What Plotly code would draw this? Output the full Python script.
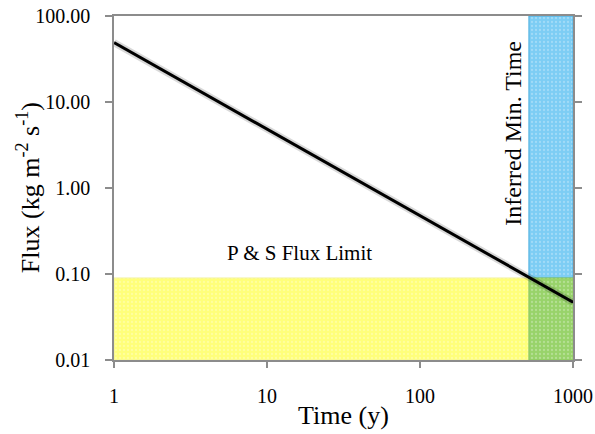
import math
import plotly.graph_objects as go

# Data
time_pts = [1, 1000]
flux_pts = [49, 0.047]
flux_limit = 0.09          # P & S flux limit
min_time = 515             # inferred minimum time
t_range = [1, 1000]
f_range = [0.01, 100]
y_ticks = [0.01, 0.1, 1, 10, 100]
y_ticklabels = ["0.01", "0.10", "1.00", "10.00", "100.00"]
x_ticks = [1, 10, 100, 1000]
x_ticklabels = ["1", "10", "100", "1000"]
label_limit = ("P & S Flux Limit", 16.4, 0.175)
label_time = ("Inferred Min. Time", 400, 4.3)

FONT = "Liberation Serif"

fig = go.Figure()

def rect(x0, x1, y0, y1, color, edge):
    fig.add_trace(go.Scatter(
        x=[x0, x1, x1, x0, x0], y=[y0, y0, y1, y1, y0],
        mode="lines", fill="toself", fillcolor=color,
        line=dict(color=edge, width=1),
        fillpattern=dict(shape=".", fgcolor="rgba(255,255,255,0.55)", bgcolor=color, size=4, solidity=0.25),
        hoverinfo="skip", showlegend=False))

rect(t_range[0], min_time, f_range[0], flux_limit, "#FFFF7A", "#F2F2A0")
rect(min_time, t_range[1], flux_limit, f_range[1], "#7DCDF4", "#4AAEDF")
rect(min_time, t_range[1], f_range[0], flux_limit, "#98D36A", "#8CC85E")

# shadow
fig.add_trace(go.Scatter(x=time_pts, y=flux_pts, mode="lines",
                         line=dict(color="rgba(0,0,0,0.15)", width=7),
                         hoverinfo="skip", showlegend=False))
fig.add_trace(go.Scatter(x=time_pts, y=flux_pts, mode="lines",
                         line=dict(color="black", width=3),
                         showlegend=False))

fig.add_annotation(x=math.log10(label_limit[1]), y=math.log10(label_limit[2]), xref="x", yref="y",
                   text=label_limit[0], showarrow=False,
                   font=dict(family=FONT, size=21, color="black"))
fig.add_annotation(x=math.log10(label_time[1]), y=math.log10(label_time[2]), xref="x", yref="y",
                   text=label_time[0], showarrow=False, textangle=-90,
                   font=dict(family=FONT, size=24, color="black"))
# y-axis title
fig.add_annotation(x=-0.187, y=0.5, xref="paper", yref="paper", xanchor="center", yanchor="middle",
                   text="Flux (kg m<sup>-2</sup> s<sup>-1</sup>)", showarrow=False, textangle=-90,
                   font=dict(family=FONT, size=26, color="black"))

fig.update_xaxes(type="log", range=[0, 3], tickvals=x_ticks, ticktext=x_ticklabels,
                 automargin=False,
                 showgrid=False, zeroline=False, showline=True, linecolor="#8c8c8c", linewidth=1.5,
                 mirror=True, ticks="outside", ticklen=6, tickcolor="#8c8c8c", tickwidth=1.5,
                 ticklabelstandoff=11,
                 tickfont=dict(family=FONT, size=20, color="black"),
                 title=dict(text="Time (y)", font=dict(family=FONT, size=26, color="black"), standoff=0))
fig.update_yaxes(type="log", range=[-2, 2], tickvals=y_ticks, ticktext=y_ticklabels,
                 automargin=False,
                 showgrid=False, zeroline=False, showline=True, linecolor="#8c8c8c", linewidth=1.5,
                 mirror="ticks", ticks="outside", ticklen=7, tickcolor="#8c8c8c", tickwidth=1.5,
                 ticklabelstandoff=11,
                 tickfont=dict(family=FONT, size=20, color="black"))

fig.update_layout(width=595, height=434, margin=dict(l=114, r=22, t=16, b=74, autoexpand=False),
                  paper_bgcolor="white", plot_bgcolor="white")

fig.write_html("out.html", config={"displayModeBar": False},
               post_script="document.body.style.margin='0';document.body.style.padding='0';")
